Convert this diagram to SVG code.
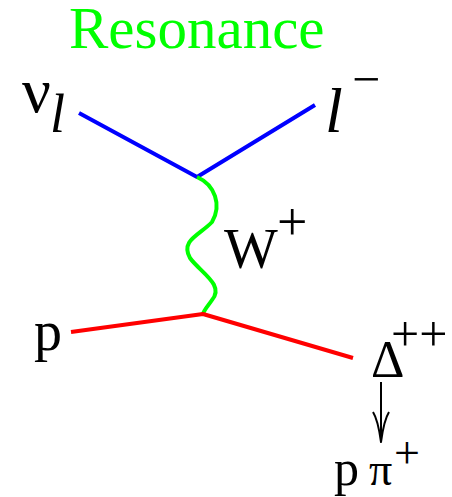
<svg xmlns="http://www.w3.org/2000/svg" width="452" height="497" viewBox="0 0 452 497">
<rect width="452" height="497" fill="#fff"/>
<g id="title"><text x="69" y="48" font-size="59" fill="#00ff00" font-family="Times New Roman">Resonance</text></g>
<g id="nu"><text x="22" y="112" font-size="64" font-family="Times New Roman">ν</text><text x="50" y="132" font-size="54" font-style="italic" font-family="Times New Roman">l</text></g>
<g id="lepton"><text x="325" y="132" font-size="64" font-style="italic" font-family="Times New Roman">l</text><text x="352" y="96" font-size="50" font-family="Times New Roman">−</text></g>
<g id="w"><text x="224" y="268" font-size="57" font-family="Times New Roman">W</text><text x="277" y="240" font-size="54" font-family="Times New Roman">+</text></g>
<g id="p"><text x="34" y="350" font-size="56" font-family="Times New Roman">p</text></g>
<g id="delta"><text x="371" y="377" font-size="52" font-family="Times New Roman">Δ</text><text x="391" y="351" font-size="50" font-family="Times New Roman">++</text></g>
<g id="decay"><text x="334" y="485" font-size="50" font-family="Times New Roman">p</text><text x="369" y="485" font-size="46" font-family="Times New Roman">π</text><text x="394" y="468" font-size="46" font-family="Times New Roman">+</text></g>
<g id="connectors" fill="none" stroke-width="4" stroke-linejoin="round">
<path stroke="#0000ff" d="M79,113 L197,177 L315,105"/>
<path stroke="#00ff00" d="M197,177 C215,185 222,205 212,222 C200,235 180,240 190,258 C200,272 225,285 212,300 C208,306 204,310 203,314"/>
<path stroke="#ff0000" d="M71,332 L203,314 L353,358"/>
<path stroke="#000" stroke-width="2" d="M381,382 L381,441 M373,412 Q378,420 381,442 Q384,420 389,412"/>
</g>
</svg>
